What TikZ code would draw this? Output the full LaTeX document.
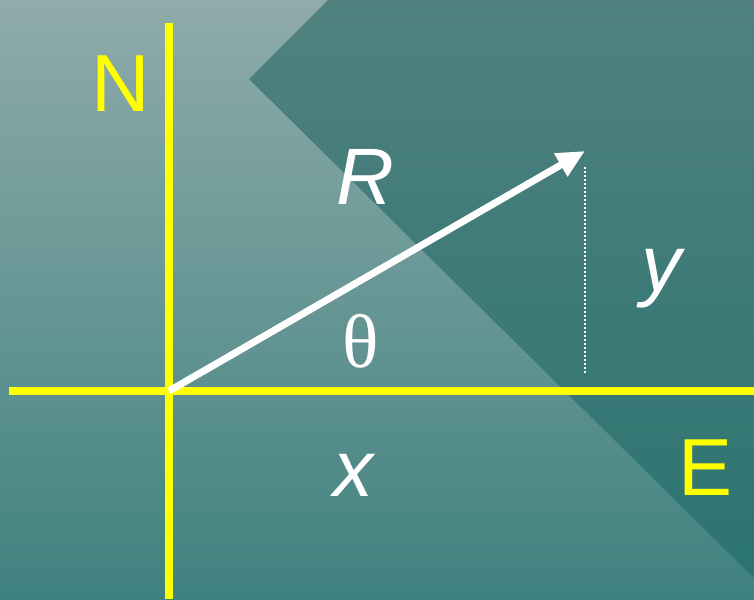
\documentclass[tikz,border=0pt]{standalone}
\usepackage{fontspec}
\setmainfont{Liberation Sans}
\newfontfamily\seriffont{Liberation Serif}
\usetikzlibrary{arrows.meta}
\definecolor{lighttop}{HTML}{8FABAA}
\definecolor{lightbot}{HTML}{3F827F}
\definecolor{darktop}{HTML}{50817F}
\definecolor{darkbot}{HTML}{2A7470}
\definecolor{axisyellow}{HTML}{FFFF00}
\tikzset{
  axis/.style={draw=axisyellow, line width=8pt},
  dirlabel/.style={text=axisyellow, font=\fontsize{81}{81}\selectfont, inner sep=0pt},
  varlabel/.style={text=white, font=\fontsize{80}{80}\selectfont\itshape, inner sep=0pt},
  vec/.style={draw=white, line width=7pt, -{Triangle[length=28pt,width=25pt]}},
  guide/.style={draw=white, line width=2pt, dash pattern=on 2pt off 2pt}
}
\begin{document}
\begin{tikzpicture}[x=1pt,y=-1pt]
\useasboundingbox (0,0) rectangle (754,599);
% background
\shade[top color=lighttop, bottom color=lightbot] (0,0) rectangle (754,599);
\begin{scope}
  \clip (328,0) -- (754,0) -- (754,578) -- (249,79) -- cycle;
  \shade[top color=darktop, bottom color=darkbot] (0,0) rectangle (754,599);
\end{scope}
% coordinates
\coordinate (o) at (169,391);
\coordinate (nt) at (169,23);
\coordinate (nb) at (169,599);
\coordinate (el) at (9,391);
\coordinate (er) at (754,391);
\coordinate (tip) at (585,151);
\coordinate (gtop) at (585,167);
\coordinate (gbot) at (585,374);
% axes
\draw[axis] (nt) -- (nb);
\draw[axis] (el) -- (er);
% vector and guide
\draw[vec] (o) -- (tip);
\draw[guide] (gtop) -- (gbot);
% labels
\node[dirlabel] (N) at (121,84) {N};
\node[dirlabel] (E) at (706,468) {E};
\node[varlabel] (R) at (365,177) {R};
\node[varlabel] (X) at (353,475) {x};
\node[varlabel] (Y) at (661,279) {y};
\node[text=white, font=\fontsize{76}{76}\selectfont\seriffont, inner sep=0pt] (T) at (361,341) {θ};
\end{tikzpicture}
\end{document}
